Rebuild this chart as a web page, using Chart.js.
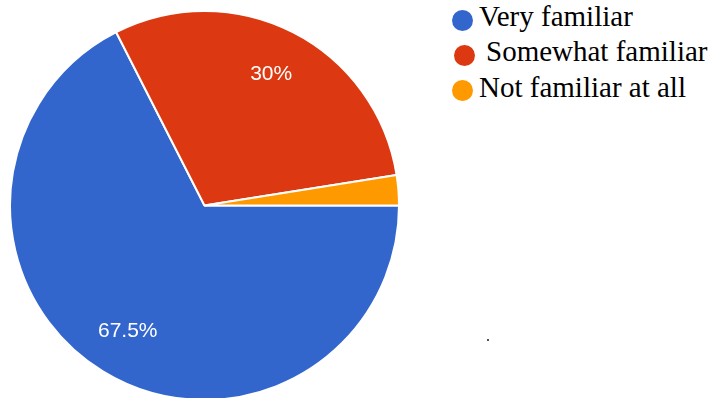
<!DOCTYPE html>
<html>
<head>
<meta charset="utf-8">
<script src="https://cdn.jsdelivr.net/npm/chart.js@4"></script>
<style>
  html, body { margin: 0; padding: 0; background: #fff; width: 711px; height: 398px; overflow: hidden; }
  #wrap { position: absolute; left: 9px; top: 10px; width: 391px; height: 391px; }
  .legend { position: absolute; left: 0; top: 0; font-family: "Liberation Serif", "Times New Roman", serif; font-size: 29px; color: #000; }
  .item { position: absolute; white-space: nowrap; line-height: 1; }
  .dot { position: absolute; width: 21px; height: 21px; border-radius: 50%; }
  .speck { position: absolute; left: 487px; top: 339px; width: 2px; height: 2px; background: #555; }
</style>
</head>
<body>
<div id="wrap"><canvas id="pie" width="391" height="391"></canvas></div>
<div class="legend" id="legend"></div>
<div class="speck"></div>
<script>
// 응답 분포
const categories = ['Very familiar', 'Somewhat familiar', 'Not familiar at all'];
const values = [67.5, 30, 2.5];
const valueLabels = ['67.5%', '30%', ''];
const colors = ['#3366cc', '#dc3912', '#ff9900'];

// 범례 위치 (원, 텍스트)
const legendRows = [
    { dotX: 452, dotY: 10, textX: 479, baseline: 28 },
    { dotX: 454, dotY: 45, textX: 486, baseline: 63 },
    { dotX: 452, dotY: 80, textX: 479, baseline: 99 }
];

function renderLegend() {
    const legend = document.getElementById('legend');
    legend.innerHTML = categories.map((name, i) => {
        const row = legendRows[i];
        return `
            <div class="dot" style="left:${row.dotX}px;top:${row.dotY}px;background:${colors[i]}"></div>
            <div class="item" style="left:${row.textX}px;top:${row.baseline - 26}px">${name}</div>
        `;
    }).join('');
}

// 조각 안쪽에 퍼센트 표시
const sliceLabels = {
    id: 'sliceLabels',
    afterDatasetsDraw(chart) {
        const ctx = chart.ctx;
        const meta = chart.getDatasetMeta(0);
        ctx.save();
        ctx.fillStyle = '#ffffff';
        ctx.font = '21px "Liberation Sans", Arial, sans-serif';
        ctx.textAlign = 'center';
        ctx.textBaseline = 'middle';
        meta.data.forEach((arc, i) => {
            if (!valueLabels[i]) return;
            const mid = (arc.startAngle + arc.endAngle) / 2;
            const d = arc.outerRadius * 0.755;
            ctx.fillText(valueLabels[i], arc.x + Math.cos(mid) * d, arc.y + Math.sin(mid) * d);
        });
        ctx.restore();
    }
};

function initPieChart() {
    const ctx = document.getElementById('pie').getContext('2d');
    return new Chart(ctx, {
        type: 'pie',
        data: {
            labels: categories,
            datasets: [{
                data: values,
                backgroundColor: colors,
                borderColor: '#ffffff',
                borderWidth: 2
            }]
        },
        options: {
            responsive: false,
            animation: false,
            rotation: 90,
            layout: { padding: 0 },
            plugins: { legend: { display: false }, tooltip: { enabled: false } }
        },
        plugins: [sliceLabels]
    });
}

renderLegend();
initPieChart();
</script>
</body>
</html>
